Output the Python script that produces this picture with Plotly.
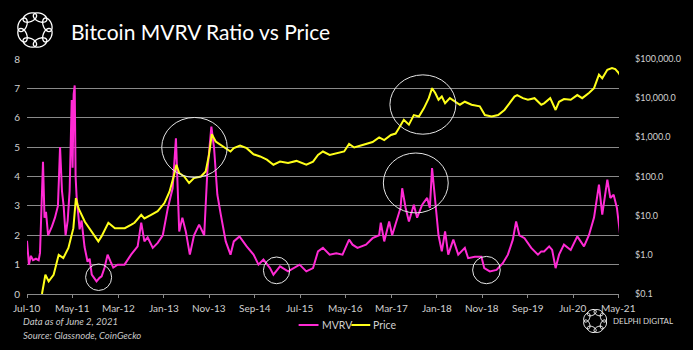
import math
import plotly.graph_objects as go

# ---------------- data ----------------
mvrv_dates = [
    "2010-07-01", "2010-07-14", "2010-07-27", "2010-08-10", "2010-08-30", "2010-09-17", "2010-09-26",
    "2010-10-06", "2010-10-16", "2010-10-26", "2010-11-05", "2010-11-19", "2010-12-15", "2011-01-04",
    "2011-01-24", "2011-01-31", "2011-02-07", "2011-02-20", "2011-03-03", "2011-03-16", "2011-03-30",
    "2011-04-12", "2011-04-19", "2011-04-26", "2011-05-02", "2011-05-09", "2011-05-16", "2011-05-22",
    "2011-05-29", "2011-06-05", "2011-06-18", "2011-07-01", "2011-07-21", "2011-08-10", "2011-08-24",
    "2011-09-07", "2011-10-09", "2011-10-29", "2011-11-12", "2011-12-02", "2011-12-22", "2012-01-11",
    "2012-01-29", "2012-02-27", "2012-04-13", "2012-05-27", "2012-07-10", "2012-08-03", "2012-08-24",
    "2012-09-15", "2012-10-19", "2012-11-21", "2012-12-25", "2013-01-28", "2013-03-01", "2013-03-23",
    "2013-04-03", "2013-04-14", "2013-05-05", "2013-05-28", "2013-06-24", "2013-07-22", "2013-08-25",
    "2013-09-28", "2013-10-19", "2013-11-15", "2013-12-03", "2013-12-25", "2014-01-17", "2014-02-19",
    "2014-03-23", "2014-04-14", "2014-05-22", "2014-07-09", "2014-08-24", "2014-09-26", "2014-10-29",
    "2014-12-12", "2015-01-04", "2015-02-17", "2015-04-12", "2015-05-15", "2015-06-28", "2015-08-12",
    "2015-09-26", "2015-10-29", "2015-12-01", "2016-01-15", "2016-02-28", "2016-04-10", "2016-05-24",
    "2016-06-16", "2016-07-19", "2016-09-14", "2016-10-28", "2016-12-11", "2016-12-22", "2017-01-14",
    "2017-02-16", "2017-03-08", "2017-04-11", "2017-05-03", "2017-05-14", "2017-06-06", "2017-06-28",
    "2017-07-31", "2017-08-22", "2017-09-25", "2017-10-28", "2017-11-15", "2017-11-30", "2017-12-21",
    "2018-01-12", "2018-02-03", "2018-02-25", "2018-03-18", "2018-04-21", "2018-05-24", "2018-07-07",
    "2018-07-29", "2018-09-12", "2018-10-26", "2018-11-14", "2018-12-21", "2019-02-04", "2019-03-18",
    "2019-04-21", "2019-05-24", "2019-06-15", "2019-07-07", "2019-08-10", "2019-09-24", "2019-11-08",
    "2019-11-30", "2019-12-19", "2020-01-22", "2020-02-11", "2020-03-05", "2020-03-28", "2020-04-30",
    "2020-06-14", "2020-07-28", "2020-09-11", "2020-10-14", "2020-11-17", "2020-12-20", "2021-01-11",
    "2021-02-14", "2021-03-06", "2021-03-28", "2021-04-19", "2021-05-08", "2021-05-16",
]
mvrv_values = [
    1.81, 1.0, 1.3, 1.15, 1.2, 1.15, 1.4,
    2.8, 4.5, 2.6, 2.8, 2.0, 2.3, 2.6,
    3.0, 4.0, 5.0, 3.5, 3.0, 2.0, 2.5,
    3.5, 5.2, 6.6, 4.3, 6.8, 7.1, 4.0,
    3.3, 2.8, 2.2, 2.5, 1.6, 1.1, 1.2,
    0.66, 0.43, 0.55, 0.6, 0.9, 1.34, 1.1,
    0.9, 1.0, 1.0, 1.34, 1.62, 2.43, 1.79,
    1.93, 1.57, 1.74, 2.0, 2.93, 3.6, 5.3,
    3.38, 2.13, 2.6, 2.13, 1.34, 2.0, 2.36,
    2.0, 4.17, 5.7, 4.97, 3.38, 2.7, 1.79,
    1.34, 1.79, 1.96, 1.62, 1.34, 1.0, 1.17,
    0.88, 0.66, 0.94, 0.77, 0.88, 1.0, 0.77,
    0.88, 1.45, 1.57, 1.34, 1.39, 1.34, 1.85,
    1.68, 1.57, 1.68, 1.9, 2.0, 2.43, 1.79,
    2.47, 2.0, 2.6, 2.93, 3.6, 2.93, 2.47,
    3.04, 2.6, 3.04, 3.27, 2.93, 4.29, 3.1,
    2.0, 1.45, 2.13, 1.34, 1.85, 1.34, 1.57,
    1.22, 1.27, 1.27, 0.88, 0.77, 0.82, 1.05,
    1.34, 1.85, 2.47, 2.0, 1.9, 1.57, 1.34,
    1.45, 1.45, 1.62, 1.5, 0.88, 1.34, 1.68,
    1.5, 1.96, 1.62, 2.0, 2.6, 3.72, 2.7,
    3.89, 3.27, 3.38, 2.93, 2.13, 1.74,
]

price_dates = [
    "2010-07-01", "2010-09-26", "2010-10-09", "2010-11-01", "2010-11-23", "2010-12-26", "2011-01-29",
    "2011-03-01", "2011-04-04", "2011-05-07", "2011-05-24", "2011-06-10", "2011-07-23", "2011-09-07",
    "2011-10-21", "2011-11-12", "2011-12-27", "2012-02-09", "2012-04-15", "2012-05-29", "2012-06-19",
    "2012-08-03", "2012-08-24", "2012-10-08", "2012-11-21", "2013-01-05", "2013-02-08", "2013-03-11",
    "2013-03-26", "2013-04-14", "2013-05-17", "2013-06-19", "2013-07-22", "2013-09-06", "2013-10-08",
    "2013-10-30", "2013-11-18", "2013-12-14", "2014-01-17", "2014-02-19", "2014-03-23", "2014-04-14",
    "2014-05-26", "2014-07-09", "2014-08-24", "2014-10-07", "2014-11-21", "2015-01-04", "2015-02-17",
    "2015-04-12", "2015-06-07", "2015-08-12", "2015-09-26", "2015-10-29", "2015-12-01", "2016-01-15",
    "2016-02-28", "2016-04-21", "2016-05-24", "2016-06-27", "2016-08-22", "2016-10-28", "2016-12-11",
    "2017-01-14", "2017-02-28", "2017-03-31", "2017-04-22", "2017-05-25", "2017-06-28", "2017-07-31",
    "2017-09-03", "2017-10-06", "2017-11-08", "2017-11-30", "2017-12-21", "2018-01-12", "2018-02-03",
    "2018-02-25", "2018-03-29", "2018-05-01", "2018-06-04", "2018-07-07", "2018-08-21", "2018-10-15",
    "2018-11-18", "2019-01-02", "2019-02-15", "2019-03-29", "2019-05-02", "2019-06-04", "2019-06-22",
    "2019-07-30", "2019-09-02", "2019-10-16", "2019-11-30", "2019-12-19", "2020-01-29", "2020-03-05",
    "2020-03-28", "2020-04-30", "2020-06-14", "2020-07-28", "2020-08-30", "2020-10-14", "2020-11-17",
    "2020-12-20", "2021-01-11", "2021-02-14", "2021-03-17", "2021-04-08", "2021-05-01", "2021-05-16",
]
price_values = [
    0.06, 0.07, 0.1, 0.31, 0.21, 0.31, 1.0,
    0.83, 1.5, 4.8, 28, 15.5, 7, 4,
    2.2, 3, 6.6, 4.8, 4.8, 5.9, 6.6,
    10.5, 8.5, 10.5, 13, 21, 41, 110,
    200, 123, 100, 68, 91, 100, 134,
    355, 1200, 780, 640, 530, 435, 530,
    620, 530, 370, 325, 270, 200, 240,
    220, 250, 200, 240, 355, 435, 355,
    395, 435, 680, 550, 640, 760, 1000,
    850, 1150, 1250, 1700, 2800, 2100, 3700,
    3400, 5500, 10000, 18000, 13500, 9100, 11000,
    7400, 10000, 8100, 6800, 8100, 6800, 6200,
    3700, 3400, 3700, 5000, 7400, 11000, 12000,
    10000, 9100, 10000, 6800, 7400, 10000, 5000,
    8100, 9500, 9100, 12000, 10000, 13500, 18000,
    40000, 32000, 53000, 59000, 55000, 44000, 35000,
]

x_tick_dates = ["2010-07-01", "2011-05-01", "2012-03-01", "2013-01-01", "2013-11-01", "2014-09-01",
                "2015-07-01", "2016-05-01", "2017-03-01", "2018-01-01", "2018-11-01", "2019-09-01",
                "2020-07-01", "2021-05-01"]
x_tick_labels = ["Jul-10", "May-11", "Mar-12", "Jan-13", "Nov-13", "Sep-14", "Jul-15",
                 "May-16", "Mar-17", "Jan-18", "Nov-18", "Sep-19", "Jul-20", "May-21"]
left_ticks = [0, 1, 2, 3, 4, 5, 6, 7, 8]
price_ticks = [0.1, 1, 10, 100, 1000, 10000, 100000]
price_tick_labels = ["$0.1", "$1.0", "$10.0", "$100.0", "$1,000.0", "$10,000.0", "$100,000.0"]
series_names = ["MVRV", "Price"]

# highlighted regions (x start, x end, y low, y high on the MVRV axis)
circle_x0 = ["2011-07-28", "2012-12-18", "2014-10-29", "2017-02-21", "2017-01-08", "2018-08-28"]
circle_x1 = ["2012-01-18", "2014-03-01", "2015-04-23", "2018-05-08", "2018-03-18", "2019-03-01"]
circle_y0 = [0.12, 3.97, 0.35, 5.44, 2.76, 0.35]
circle_y1 = [1.02, 6.01, 1.26, 7.46, 4.80, 1.28]

# ---------------- layout geometry ----------------
W, H = 693, 350
ML, MR, MT, MB = 27, 71, 59, 56
PW, PH = W - ML - MR, H - MT - MB


def px(xp):
    return (xp - ML) / PW


def py(yp):
    return (H - MB - yp) / PH


MAGENTA = "#ff2ad4"
YELLOW = "#ffff1a"
GRID = "#8a8a8a"
LABEL = "#d0d0d0"
FONT = "Lato"
colors = [MAGENTA, YELLOW]

fig = go.Figure()
fig.add_trace(go.Scatter(x=mvrv_dates, y=mvrv_values, name=series_names[0], mode="lines",
                         line=dict(color=MAGENTA, width=2), yaxis="y", showlegend=False))
fig.add_trace(go.Scatter(x=price_dates, y=price_values, name=series_names[1], mode="lines",
                         line=dict(color=YELLOW, width=2), yaxis="y2", showlegend=False))

shapes = []
for a, b, c, d in zip(circle_x0, circle_x1, circle_y0, circle_y1):
    shapes.append(dict(type="circle", xref="x", yref="y", x0=a, x1=b, y0=c, y1=d,
                       line=dict(color="#e6e6e6", width=1)))


def ring_logo(cx, cy, ring_r, a, b, n=8, width=1.3):
    out = []
    for k in range(n):
        ang = 2 * math.pi * k / n + math.pi / n
        ex = cx + ring_r * math.cos(ang)
        ey = cy + ring_r * math.sin(ang)
        tx, ty = -math.sin(ang), math.cos(ang)   # tangential direction
        rx, ry = math.cos(ang), math.sin(ang)    # radial direction
        pts = []
        for j in range(25):
            t = 2 * math.pi * j / 24
            x = ex + a * math.cos(t) * tx + b * math.sin(t) * rx
            y = ey + a * math.cos(t) * ty + b * math.sin(t) * ry
            pts.append((px(x), py(y)))
        path = "M " + " L ".join(f"{u:.5f},{v:.5f}" for u, v in pts) + " Z"
        out.append(dict(type="path", xref="paper", yref="paper", path=path,
                        line=dict(color="white", width=width)))
    return out


shapes += ring_logo(35, 30, 13.5, 7.2, 4.2)
shapes += ring_logo(598, 321, 9.0, 4.8, 2.8, width=1.0)

# custom legend (short line samples like the reference)
legend_line_x = [(300, 320), (353, 372)]
for (x0, x1), c in zip(legend_line_x, colors):
    shapes.append(dict(type="line", xref="paper", yref="paper", x0=px(x0), x1=px(x1),
                       y0=py(325), y1=py(325), line=dict(color=c, width=2)))

annotations = [
    dict(text="Bitcoin MVRV Ratio vs Price", xref="paper", yref="paper", x=px(69), y=py(31),
         xanchor="left", yanchor="middle", showarrow=False,
         font=dict(family=FONT, size=21, color="white")),
    dict(text="<i>Data as of June 2, 2021</i>", xref="paper", yref="paper", x=px(21), y=py(321),
         xanchor="left", yanchor="middle", showarrow=False,
         font=dict(family=FONT, size=9.5, color="#c8c8c8")),
    dict(text="<i>Source: Glassnode, CoinGecko</i>", xref="paper", yref="paper", x=px(21), y=py(335),
         xanchor="left", yanchor="middle", showarrow=False,
         font=dict(family=FONT, size=9.5, color="#c8c8c8")),
    dict(text="DELPHI DIGITAL", xref="paper", yref="paper", x=px(614), y=py(321),
         xanchor="left", yanchor="middle", showarrow=False,
         font=dict(family=FONT, size=8, color="#d8d8d8")),
]
for (x0, x1), name in zip(legend_line_x, series_names):
    annotations.append(dict(text=name, xref="paper", yref="paper", x=px(x1 + 1), y=py(325),
                            xanchor="left", yanchor="middle", showarrow=False,
                            font=dict(family=FONT, size=10.5, color=LABEL)))
# x tick labels placed at their dates on the x axis
for d, lab in zip(x_tick_dates, x_tick_labels):
    annotations.append(dict(text=lab, xref="x", yref="paper", x=d, y=py(308),
                            xanchor="center", yanchor="middle", showarrow=False,
                            font=dict(family=FONT, size=10, color=LABEL)))

fig.update_layout(
    width=W, height=H,
    margin=dict(l=ML, r=MR, t=MT, b=MB, pad=0),
    paper_bgcolor="black", plot_bgcolor="black",
    font=dict(family=FONT, color=LABEL, size=10),
    showlegend=False,
    xaxis=dict(type="date", range=["2010-07-01", "2021-05-03"], tickvals=x_tick_dates,
               ticktext=x_tick_labels, showticklabels=False, showgrid=False, zeroline=False,
               showline=True, linecolor=GRID, linewidth=1,
               ticks="outside", ticklen=3, tickcolor=GRID),
    yaxis=dict(range=[0, 8], tickvals=left_ticks, showgrid=True, gridcolor=GRID, gridwidth=1,
               zeroline=False, showline=False, ticks="", ticklabelstandoff=6,
               tickfont=dict(family=FONT, size=10, color=LABEL)),
    yaxis2=dict(type="log", range=[-1, 5], overlaying="y", side="right",
                tickvals=price_ticks, ticktext=price_tick_labels, showgrid=False,
                zeroline=False, showline=False, ticks="", ticklabelstandoff=15,
                tickfont=dict(family=FONT, size=9, color=LABEL)),
    shapes=shapes,
    annotations=annotations,
)

fig.write_html("out.html")
